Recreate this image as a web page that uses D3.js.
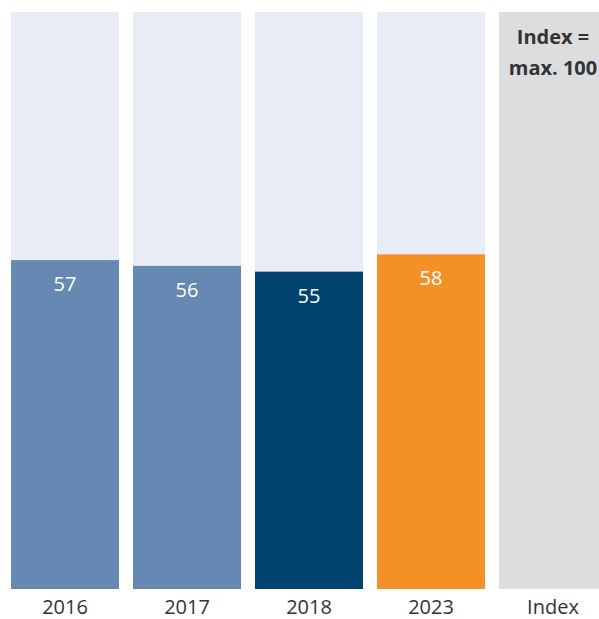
<!DOCTYPE html>
<html>
<head>
<meta charset="utf-8">
<script src="https://cdn.jsdelivr.net/npm/d3@7"></script>
<style>
  body { margin: 0; background: #fff; }
  svg { display: block; }
  text { font-family: "Open Sans", "Noto Sans", sans-serif; }
</style>
</head>
<body>
<script>
// Chart data
const years = ["2016", "2017", "2018", "2023"];
const values = [57, 56, 55, 58];
const barColors = ["#6689b3", "#6689b3", "#00436f", "#f39126"];
const indexLabel = "Index";
const indexNote = ["Index =", "max. 100"];
const indexMax = 100;

const width = 599, height = 619;
const margin = { top: 12, bottom: 30, left: 11 };

const svg = d3.select("body").append("svg")
    .attr("width", width)
    .attr("height", height);

const categories = years.concat([indexLabel]);

const x = d3.scaleBand()
    .domain(categories)
    .range([margin.left, 607])
    .paddingInner(14 / 122)
    .paddingOuter(0);

const y = d3.scaleLinear()
    .domain([0, indexMax])
    .range([height - margin.bottom, margin.top]);

// background (full index) bars
svg.append("g").selectAll("rect")
    .data(categories)
    .join("rect")
    .attr("x", d => x(d))
    .attr("y", y(indexMax))
    .attr("width", x.bandwidth())
    .attr("height", y(0) - y(indexMax))
    .attr("fill", d => d === indexLabel ? "#dcdddf" : "#e8edf5");

// value bars
const bars = svg.append("g").selectAll("g")
    .data(years.map((yr, i) => ({ yr, v: values[i], c: barColors[i] })))
    .join("g");

bars.append("rect")
    .attr("x", d => x(d.yr))
    .attr("y", d => y(d.v))
    .attr("width", x.bandwidth())
    .attr("height", d => y(0) - y(d.v))
    .attr("fill", d => d.c);

bars.append("text")
    .attr("x", d => x(d.yr) + x.bandwidth() / 2)
    .attr("y", d => y(d.v) + 31)
    .attr("text-anchor", "middle")
    .attr("fill", "#fff")
    .attr("font-size", 20)
    .attr("font-weight", 500)
    .text(d => d.v);

// note inside index bar
svg.append("g").selectAll("text")
    .data(indexNote)
    .join("text")
    .attr("x", x(indexLabel) + x.bandwidth() / 2)
    .attr("y", (d, i) => 44 + i * 31)
    .attr("text-anchor", "middle")
    .attr("fill", "#333")
    .attr("font-size", 20)
    .attr("font-weight", "bold")
    .text(d => d);

// x axis labels
const xAxis = d3.axisBottom(x).tickSize(0).tickPadding(0);
const gx = svg.append("g")
    .attr("transform", `translate(0, ${height - margin.bottom})`)
    .call(xAxis);
gx.select(".domain").remove();
gx.selectAll("text")
    .attr("y", 25)
    .attr("dy", 0)
    .attr("fill", "#333")
    .attr("font-size", 20)
    .style("font-family", "'Open Sans', 'Noto Sans', sans-serif");
</script>
</body>
</html>
